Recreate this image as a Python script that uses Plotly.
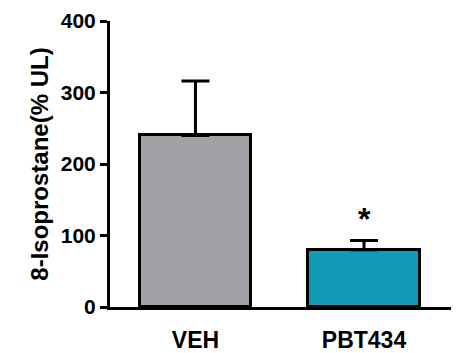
import plotly.graph_objects as go

categories = ["VEH", "PBT434"]
means = [240, 80]
errors = [76, 13]
bar_colors = ["#A2A1A6", "#139AB6"]
y_ticks = [0, 100, 200, 300, 400]
y_title = "8-Isoprostane(% UL)"
sig_marks = ["", "*"]

fig = go.Figure()
fig.add_trace(go.Bar(
    x=categories, y=means,
    width=0.66,
    marker=dict(color=bar_colors, line=dict(color="black", width=3)),
    error_y=dict(type="data", array=errors, symmetric=False, arrayminus=[0, 0],
                 color="black", thickness=3, width=14),
))

for cat, m, e, s in zip(categories, means, errors, sig_marks):
    if s:
        fig.add_annotation(x=cat, y=m + e, text=s, showarrow=False,
                           yanchor="bottom", yshift=2,
                           font=dict(family="Liberation Sans, Arial", size=32, color="black", weight="bold"))

fig.update_layout(
    template="none",
    width=454, height=345,
    margin=dict(l=102, r=11, t=13, b=46, autoexpand=False),
    paper_bgcolor="white", plot_bgcolor="white",
    showlegend=False,
    bargap=0,
    font=dict(family="Liberation Sans, Arial", color="black"),
)
fig.update_xaxes(
    range=[-0.507, 1.516], automargin=False,
    showline=True, linecolor="black", linewidth=3,
    ticks="", showgrid=False, zeroline=False,
    ticklabelstandoff=10,
    tickfont=dict(size=23, weight="bold"),
)
fig.update_yaxes(
    range=[0, 400], tickvals=y_ticks, automargin=False,
    showline=True, linecolor="black", linewidth=3,
    ticks="outside", ticklen=7, tickwidth=3, tickcolor="black",
    showgrid=False, zeroline=False,
    tickfont=dict(size=21, weight="bold"),
    title=dict(text=y_title, font=dict(size=24, weight="bold"), standoff=6),
)

fig.write_html("out.html")
